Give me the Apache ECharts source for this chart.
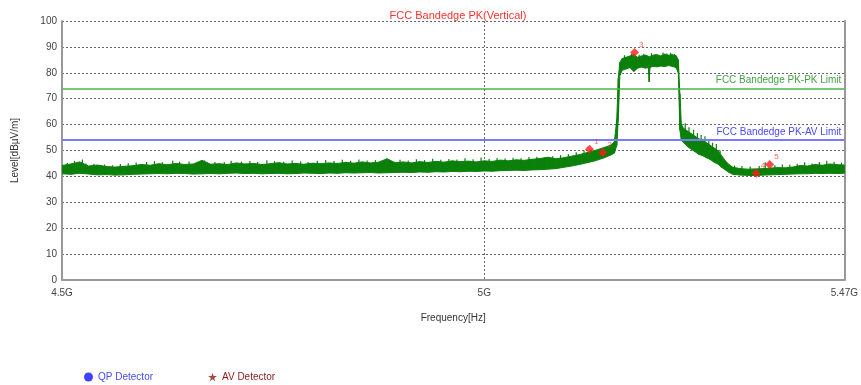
<!DOCTYPE html>
<html>
<head>
<meta charset="utf-8">
<script src="https://cdn.jsdelivr.net/npm/echarts@6/dist/echarts.min.js"></script>
<style>html,body{margin:0;padding:0;background:#fff}#c{width:861px;height:385px}</style>
</head>
<body>
<div id="c"></div>
<script>
// ---- data (frequency in MHz, level in dBµV/m) ----
const freqMHz = [4500,4510,4520,4530,4540,4550,4560,4570,4580,4590,4600,4610,4620,4630,4640,4650,4660,4670,4680,4690,4700,4710,4720,4730,4740,4750,4760,4770,4780,4790,4800,4810,4820,4830,4840,4850,4860,4870,4880,4890,4900,4910,4920,4930,4940,4950,4960,4970,4980,4990,5000,5010,5020,5030,5040,5050,5060,5070,5080,5090,5100,5110,5120,5130,5140,5150,5160,5165,5168,5170,5172,5175,5180,5185,5190,5195,5200,5205,5209,5210,5211,5215,5220,5225,5230,5235,5240,5245,5248,5250,5252,5255,5260,5265,5270,5275,5280,5285,5290,5295,5300,5305,5310,5315,5320,5330,5340,5350,5360,5370,5380,5390,5400,5410,5420,5430,5440,5450,5460,5470];
const traceLow = [41.0,40.8,41.2,40.9,40.6,40.7,40.5,40.6,40.8,40.9,41.0,41.1,41.0,41.2,41.1,40.9,41.0,41.1,41.0,41.2,41.3,41.1,41.2,41.0,41.1,41.2,41.0,41.1,41.3,41.2,41.1,41.3,41.2,41.4,41.3,41.4,41.5,41.3,41.4,41.5,41.6,41.5,41.7,41.6,41.8,41.7,41.9,41.8,42.0,41.9,42.1,42.0,42.2,42.3,42.4,42.3,42.5,42.6,42.8,43.0,43.5,44.0,44.6,45.3,46.0,47.0,48.2,49.0,52.0,62.0,79.0,81.0,81.5,82.0,80.5,81.8,82.2,81.8,82.0,76.5,82.0,82.5,82.3,82.6,82.4,82.8,82.5,82.0,80.0,58.0,54.0,53.0,51.5,50.5,49.5,48.5,48.0,47.2,46.5,45.5,44.8,43.5,42.5,41.5,40.8,40.5,40.4,40.3,40.5,40.6,40.7,40.8,40.9,41.0,41.0,41.2,41.1,41.2,41.1,41.2];
const traceHigh = [44.2,44.8,45.6,44.0,44.4,43.8,43.6,43.9,44.1,44.6,44.3,44.9,44.5,45.0,44.6,44.8,46.2,44.7,44.9,44.6,45.2,44.8,45.0,44.6,44.9,45.3,44.8,45.0,44.7,45.1,44.9,45.2,45.0,45.4,45.1,45.6,45.2,45.5,46.8,45.3,45.6,45.2,45.7,45.4,45.8,45.5,46.0,45.7,45.9,45.6,46.0,45.8,46.3,46.0,46.4,46.2,46.6,46.9,47.4,46.8,47.2,47.8,48.4,49.2,50.0,51.0,52.0,53.5,62.0,78.0,84.0,85.5,86.0,86.5,87.0,86.0,86.5,86.8,86.4,86.0,86.3,86.8,87.0,86.5,87.2,86.8,87.0,86.6,85.0,72.0,60.0,58.5,57.5,56.5,55.5,54.5,54.0,53.0,52.0,51.0,50.0,48.0,46.0,44.5,43.5,43.0,42.8,42.9,43.0,43.2,43.4,43.3,43.6,44.2,44.0,44.6,44.3,44.8,44.5,44.4];
// narrow noise peaks on top of the trace
const spikeFreq = [4506,4514,4523,4527,4536,4548,4557,4566,4575,4584,4596,4605,4614,4626,4634,4645,4655,4663,4675,4686,4694,4706,4716,4725,4736,4745,4756,4766,4776,4785,4796,4806,4816,4826,4836,4846,4856,4866,4876,4886,4896,4906,4916,4926,4936,4946,4956,4966,4976,4986,4996,5006,5016,5026,5036,5046,5056,5066,5076,5086,5096,5106,5116,5126,5178,5187,5197,5203,5213,5218,5228,5233,5238,5243,5257,5262,5268,5273,5278,5283,5288,5293,5298,5303,5322,5332,5343,5355,5363,5376,5386,5396,5406,5416,5426,5436,5446,5456,5466];
const spikeTop = [45.2,46.0,46.5,45.0,44.9,44.6,44.3,44.8,45.1,45.4,45.6,45.9,45.5,46.0,45.7,45.8,45.4,46.1,45.6,45.5,46.0,45.7,45.9,45.6,46.2,45.9,45.7,46.1,45.8,45.6,46.0,46.3,45.9,46.4,46.0,46.5,46.1,46.3,46.0,45.9,46.4,46.1,46.6,46.3,46.8,46.4,46.7,46.5,47.0,46.6,47.3,46.7,47.1,46.9,47.2,47.0,47.5,47.6,47.2,47.8,48.2,48.6,49.3,50.0,86.8,87.3,87.0,87.4,87.6,87.2,87.8,87.5,87.7,87.2,60.5,59.0,58.0,56.8,56.0,55.5,54.0,53.0,52.5,50.0,44.2,44.0,43.8,44.0,45.5,44.3,44.6,44.5,44.9,45.5,45.0,45.6,46.0,45.7,45.3];
const markerFreq = [5133,5150,5191,5351,5369];
const markerLevel = [50.5,49.2,87.8,41.2,44.6];
const markerNames = ['1','2','3','4','5'];
const limitPK = 74;
const limitAV = 54;
const xTickValues = [4500,5000,5470];
const xTickLabels = ['4.5G','5G','5.47G'];
const legendNames = ['QP Detector','AV Detector'];

// ---- build ----
const bandData = [];
for (let i = 0; i < freqMHz.length - 1; i++) {
  bandData.push([freqMHz[i], traceLow[i], traceHigh[i], freqMHz[i+1], traceLow[i+1], traceHigh[i+1]]);
}
const spikeData = spikeFreq.map((f,i)=>[f, spikeTop[i]]);
const markerData = markerFreq.map((f,i)=>({value:[f,markerLevel[i]],name:markerNames[i]}));
const labelMap = {}; xTickValues.forEach((v,i)=>labelMap[v]=xTickLabels[i]);
const traceColor = '#0b800b';
const FONT = 'Liberation Sans, Arial, sans-serif';
const starPath = 'path://M50,0 L61,35 L98,35 L68,57 L79,92 L50,70 L21,92 L32,57 L2,35 L39,35 Z';

function renderBand(params, api) {
  const a = api.coord([api.value(0), api.value(1)]);
  const b = api.coord([api.value(0), api.value(2)]);
  const c = api.coord([api.value(3), api.value(5)]);
  const d = api.coord([api.value(3), api.value(4)]);
  return {type:'polygon', shape:{points:[a,b,c,d]},
    style:{fill:traceColor, stroke:traceColor, lineWidth:1}};
}
function renderSpike(params, api) {
  const top = api.coord([api.value(0), api.value(1)]);
  const bot = api.coord([api.value(0), api.value(1) - 3.5]);
  return {type:'line', shape:{x1:top[0], y1:top[1], x2:bot[0], y2:bot[1]},
    style:{stroke:traceColor, lineWidth:1.2}};
}

const chart = echarts.init(document.getElementById('c'), null, {renderer:'canvas'});
chart.setOption({
  animation:false,
  textStyle:{fontFamily:FONT},
  title:{text:'FCC Bandedge PK(Vertical)',left:453,top:5,textAlign:'center',
    textStyle:{color:'#ff3030',fontSize:11,fontWeight:'normal',fontFamily:FONT}},
  grid:{left:62,right:16,top:21,bottom:105,containLabel:false},
  legend:{data:[{name:legendNames[0],icon:'circle',textStyle:{color:'#4a4aff'}},
                {name:legendNames[1],icon:starPath,textStyle:{color:'#8b1a1a'}}],
    left:79,top:367,itemWidth:9,itemHeight:9,itemGap:55,
    textStyle:{fontSize:10,fontFamily:FONT}},
  xAxis:{type:'log',logBase:10,min:4500,max:5470,
    name:'Frequency[Hz]',nameLocation:'middle',nameGap:33,
    nameTextStyle:{color:'#333',fontSize:10,fontFamily:FONT},
    axisLine:{lineStyle:{color:'#999',width:2}},
    axisTick:{show:false,customValues:xTickValues},
    axisLabel:{customValues:xTickValues,color:'#444',fontSize:10,margin:8,
      formatter:v=>labelMap[Math.round(v)]||''},
    splitLine:{show:true,lineStyle:{color:'#666',type:[2,2],width:1}}},
  yAxis:[{type:'value',min:0,max:100,interval:10,
    name:'Level[dBµV/m]',nameLocation:'middle',nameGap:42,
    nameTextStyle:{color:'#333',fontSize:10,fontFamily:FONT},
    axisLine:{show:true,lineStyle:{color:'#999',width:2}},
    axisTick:{show:false},
    axisLabel:{color:'#444',fontSize:10,margin:5},
    splitLine:{show:true,lineStyle:{color:'#666',type:[2,2],width:1}}},
   {type:'value',min:0,max:100,position:'right',
    axisLine:{show:true,lineStyle:{color:'#999',width:2}},
    axisTick:{show:false},axisLabel:{show:false},splitLine:{show:false}}],
  series:[
    {name:'trace',type:'custom',renderItem:renderBand,data:bandData,
      encode:{x:[0,3],y:[1,2,4,5]},z:3,clip:true},
    {name:'peaks',type:'custom',renderItem:renderSpike,data:spikeData,
      encode:{x:0,y:1},z:3,clip:true},
    {name:'markers',type:'scatter',data:markerData,symbol:'diamond',symbolSize:9,
      itemStyle:{color:'#ff1a1a'},z:5,
      label:{show:true,formatter:p=>p.name,position:[9,-7],color:'#ff4040',fontSize:8,fontFamily:FONT},
      markLine:{silent:true,symbol:'none',
        data:[
          {yAxis:limitPK,lineStyle:{color:'#4db34d',width:1.5,type:'solid'},
            label:{show:true,position:'insideEndTop',formatter:'FCC Bandedge PK-PK Limit',
              color:'#45a045',fontSize:10,fontFamily:FONT,distance:3}},
          {yAxis:limitAV,lineStyle:{color:'#7a7aff',width:2,type:'solid'},
            label:{show:true,position:'insideEndTop',formatter:'FCC Bandedge PK-AV Limit',
              color:'#4848ff',fontSize:10,fontFamily:FONT,distance:3}}
        ]}},
    {name:legendNames[0],type:'scatter',data:[],itemStyle:{color:'#1010ff'}},
    {name:legendNames[1],type:'scatter',data:[],itemStyle:{color:'#8b1a1a'}}
  ]
});
</script>
</body>
</html>
